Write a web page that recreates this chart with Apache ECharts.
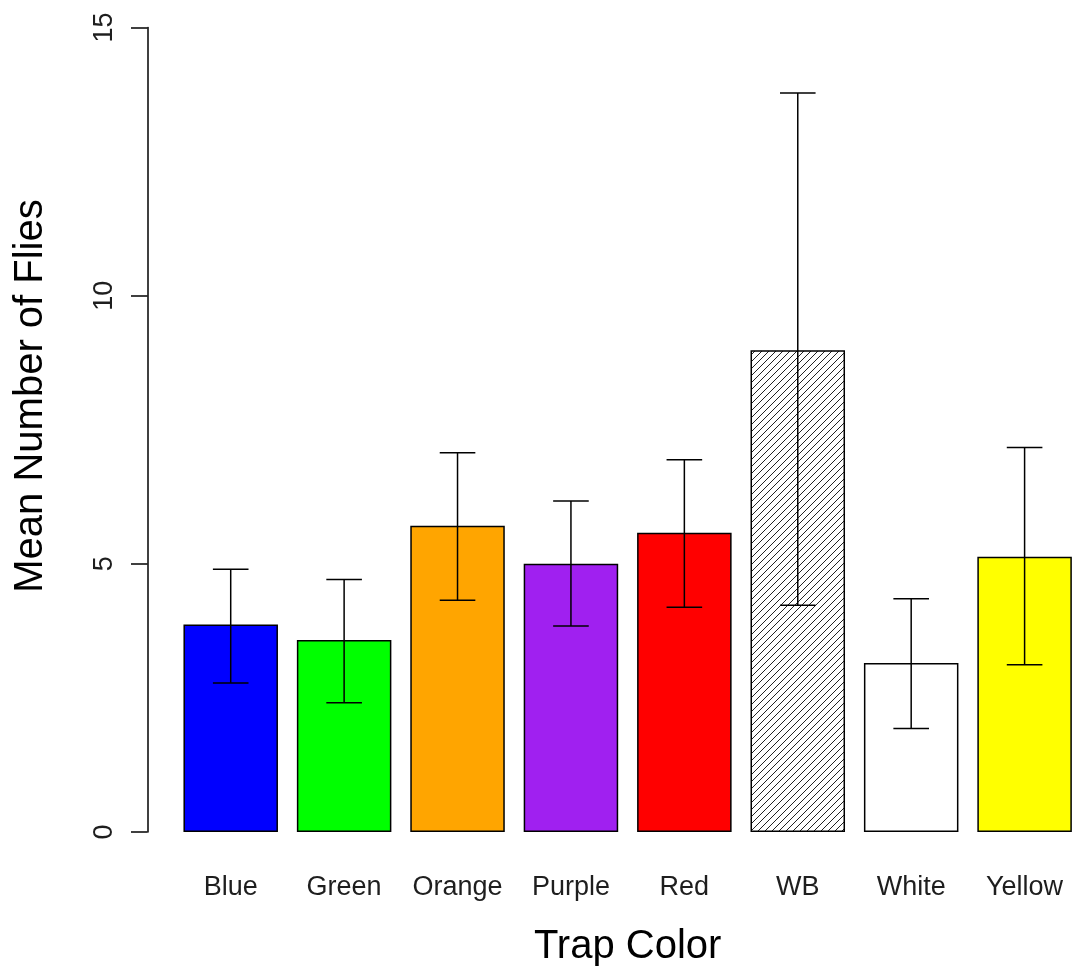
<!DOCTYPE html>
<html>
<head>
<meta charset="utf-8">
<script src="https://cdn.jsdelivr.net/npm/echarts@6/dist/echarts.min.js"></script>
<style>
html,body{margin:0;padding:0;background:#fff;overflow:hidden;width:1074px;height:972px;}
#chart{width:1100px;height:972px;}
</style>
</head>
<body>
<div id="chart"></div>
<script>
// ---- data ----
const categories = ['Blue', 'Green', 'Orange', 'Purple', 'Red', 'WB', 'White', 'Yellow'];
const meanFlies  = [3.87, 3.58, 5.71, 5.00, 5.58, 8.98, 3.15, 5.13];
const upperErr   = [4.90, 4.71, 7.07, 6.17, 6.94, 13.78, 4.35, 7.17];
const lowerErr   = [2.78, 2.41, 4.32, 3.84, 4.19, 4.23, 1.93, 3.12];
const yTicks     = [0, 5, 10, 15];

// ---- styles ----
const barColors = ['#0000FF', '#00FF00', '#FFA500', '#A020F0', '#FF0000', 'hatch', '#FFFFFF', '#FFFF00'];
const FONT = "'Liberation Sans', Arial, sans-serif";
const TEXT = '#1e1e1e';

function hatchPattern() {
  const s = 7;
  const c = document.createElement('canvas');
  c.width = s; c.height = s;
  const g = c.getContext('2d');
  g.fillStyle = '#fff';
  g.fillRect(0, 0, s, s);
  g.strokeStyle = '#222';
  g.lineWidth = 1;
  g.beginPath();
  g.moveTo(-1, s + 1); g.lineTo(s + 1, -1);
  g.moveTo(-1, 1); g.lineTo(1, -1);
  g.moveTo(s - 1, s + 1); g.lineTo(s + 1, s - 1);
  g.stroke();
  return { image: c, repeat: 'repeat' };
}
const hatch = hatchPattern();

const chart = echarts.init(document.getElementById('chart'), null, { renderer: 'canvas' });

const option = {
  animation: false,
  backgroundColor: '#ffffff',
  // chart canvas is 1100px wide; the visible page is 1074px (plot region runs past the right edge, as in the reference)
  grid: { left: 174, right: 18.7, top: 27.5, bottom: 139.7, containLabel: false },
  xAxis: {
    type: 'category',
    data: categories,
    axisLine: { show: false },
    axisTick: { show: false },
    axisLabel: { interval: 0, margin: 42, fontSize: 27, fontFamily: FONT, color: TEXT },
    name: 'Trap Color',
    nameLocation: 'middle',
    nameGap: 95,
    nameTextStyle: { fontSize: 40, fontFamily: FONT, color: '#000' }
  },
  yAxis: {
    type: 'value',
    min: yTicks[0],
    max: yTicks[yTicks.length - 1],
    interval: yTicks[1] - yTicks[0],
    offset: 26.5,
    axisLine: { show: true, lineStyle: { color: '#000', width: 1.5 } },
    axisTick: { show: true, length: 16.5, lineStyle: { color: '#000', width: 1.5 } },
    axisLabel: { rotate: 90, margin: 29, fontSize: 27, fontFamily: FONT, color: TEXT },
    splitLine: { show: false }
  },
  graphic: [{
    type: 'text',
    x: 31,
    y: 396,
    rotation: Math.PI / 2,
    style: {
      text: 'Mean Number of Flies',
      fontSize: 40,
      fontFamily: FONT,
      fill: '#000',
      align: 'center',
      verticalAlign: 'middle'
    }
  }],
  series: [
    {
      type: 'bar',
      barWidth: '83.33%',
      data: meanFlies.map((v, i) => ({
        value: v,
        itemStyle: { color: barColors[i] === 'hatch' ? hatch : barColors[i] }
      })),
      itemStyle: { borderColor: '#000', borderWidth: 1.5 },
      z: 2
    },
    {
      type: 'custom',
      z: 5,
      data: categories.map((c, i) => [i, lowerErr[i], upperErr[i]]),
      renderItem: function (params, api) {
        const xi = api.value(0);
        const lo = api.coord([xi, api.value(1)]);
        const hi = api.coord([xi, api.value(2)]);
        const half = api.size([1, 0])[0] * 0.157;
        const st = { stroke: '#000', lineWidth: 1.5 };
        return {
          type: 'group',
          children: [
            { type: 'line', shape: { x1: lo[0], y1: lo[1], x2: hi[0], y2: hi[1] }, style: st },
            { type: 'line', shape: { x1: hi[0] - half, y1: hi[1], x2: hi[0] + half, y2: hi[1] }, style: st },
            { type: 'line', shape: { x1: lo[0] - half, y1: lo[1], x2: lo[0] + half, y2: lo[1] }, style: st }
          ]
        };
      }
    }
  ]
};
chart.setOption(option);
</script>
</body>
</html>
